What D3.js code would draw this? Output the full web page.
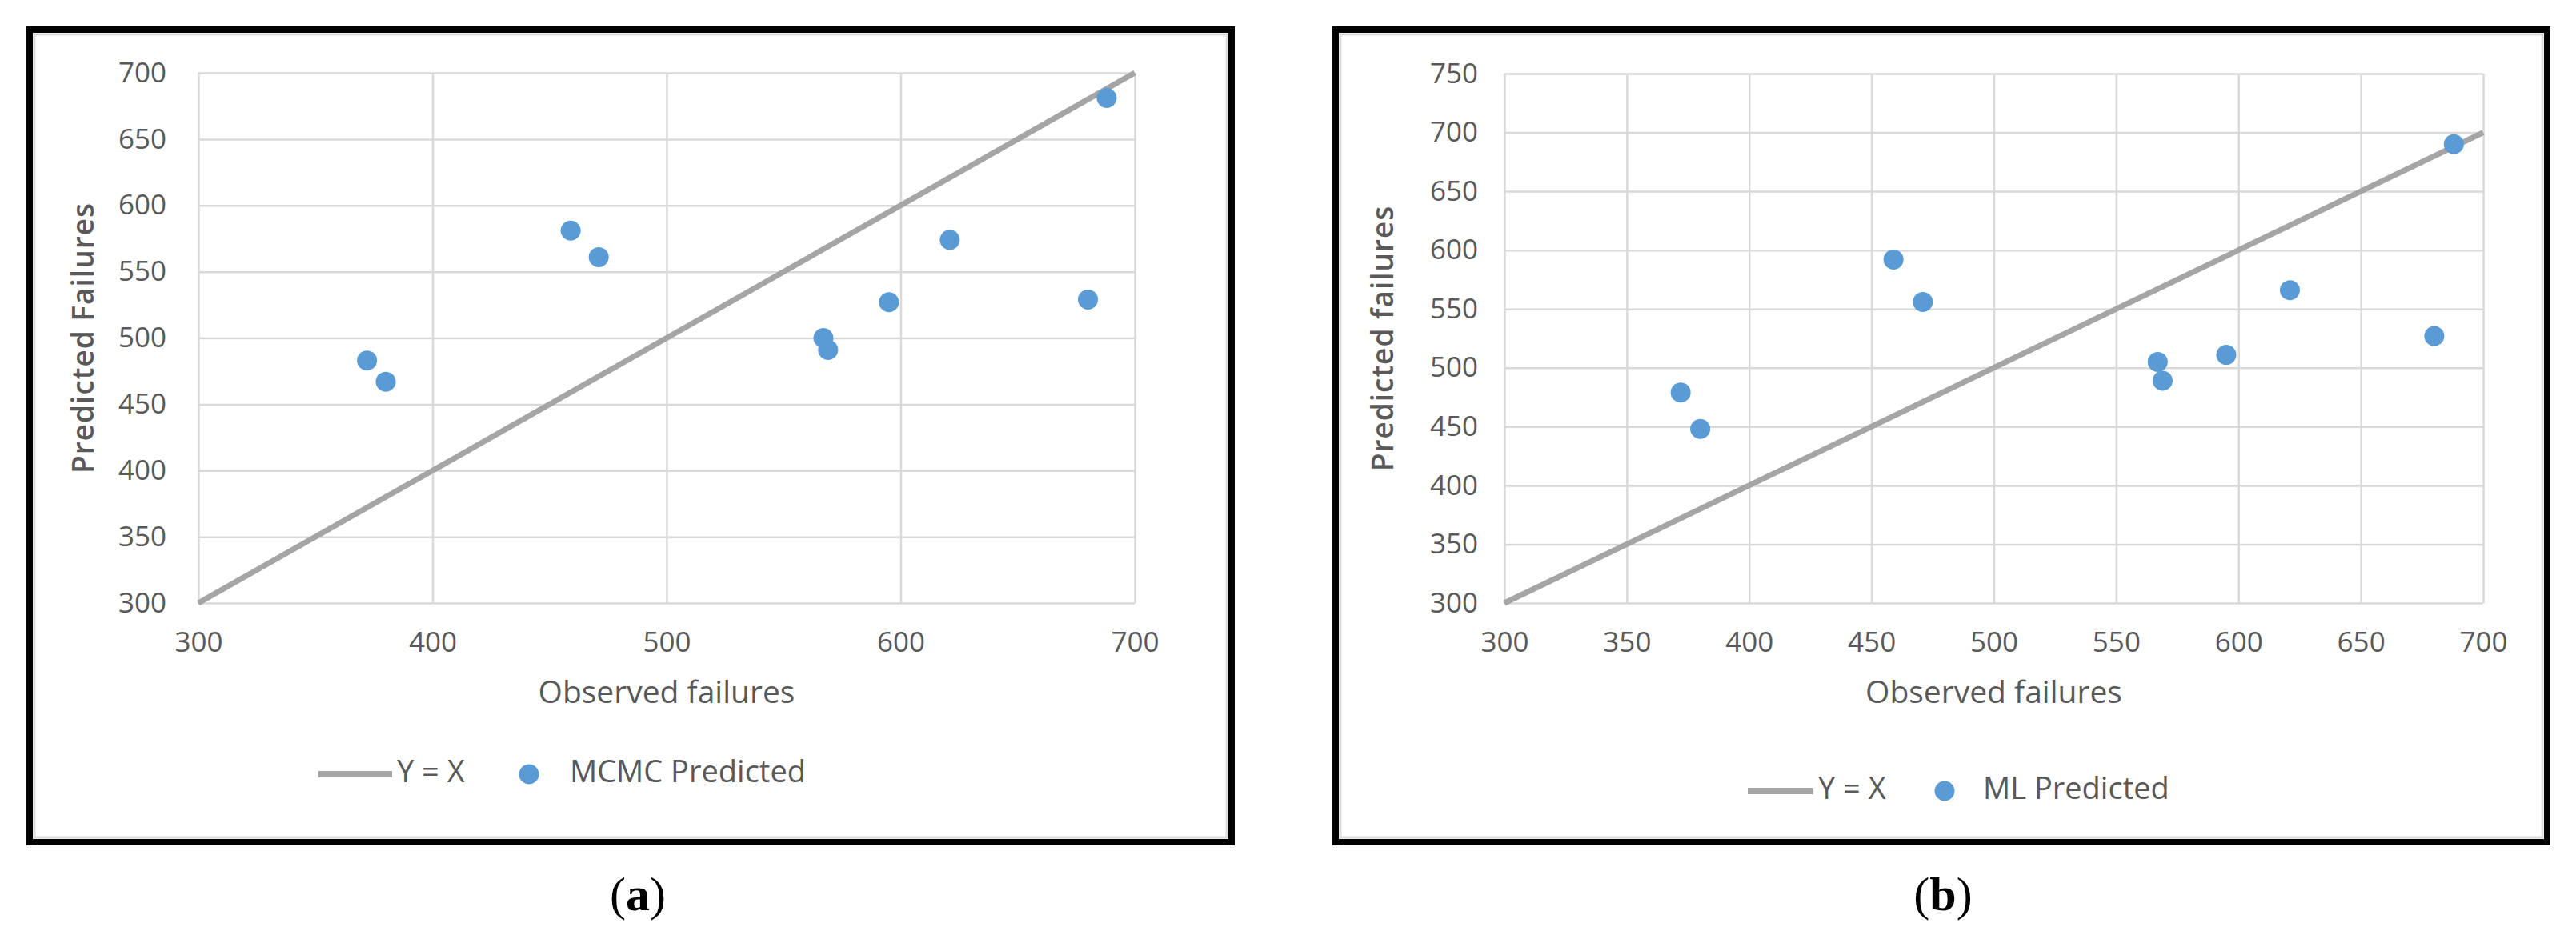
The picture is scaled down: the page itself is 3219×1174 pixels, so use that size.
<!DOCTYPE html>
<html>
<head>
<meta charset="utf-8">
<script src="https://cdn.jsdelivr.net/npm/d3@7"></script>
<style>
  html, body { margin: 0; padding: 0; background: #fff; }
  svg { display: block; }
  .tick text { fill: #595959; font-family: "Open Sans", sans-serif; }
</style>
</head>
<body>
<svg id="chart" width="3219" height="1174"></svg>
<script>
// observed failures (same for both panels)
const observed = [372, 380, 459, 471, 567, 569, 595, 621, 680, 688];
// predicted by MCMC (panel a)
const mcmcPredicted = [483, 467, 581, 561, 500, 491, 527, 574, 529, 681];
// predicted by ML (panel b)
const mlPredicted = [479, 448, 592, 556, 505, 489, 511, 566, 527, 690];

// Y = X reference line end points
const identityLine = [300, 700];

// tick labels
const xTicksA = [300, 400, 500, 600, 700];
const yTicksA = [300, 350, 400, 450, 500, 550, 600, 650, 700];
const xTicksB = [300, 350, 400, 450, 500, 550, 600, 650, 700];
const yTicksB = [300, 350, 400, 450, 500, 550, 600, 650, 700, 750];

const svg = d3.select("#chart");

const gridColor = "#d9d9d9";
const lineColor = "#a5a5a5";
const dotColor = "#5b9bd5";
const textColor = "#595959";

function drawPanel(p) {
  const g = svg.append("g");

  // outer black frame + light inner chart border
  g.append("rect")
    .attr("x", p.frame[0] + 4).attr("y", p.frame[1] + 4)
    .attr("width", p.frame[2] - p.frame[0] - 8)
    .attr("height", p.frame[3] - p.frame[1] - 8)
    .attr("fill", "#fff").attr("stroke", "#000").attr("stroke-width", 8);
  g.append("rect")
    .attr("x", p.frame[0] + 10).attr("y", p.frame[1] + 10)
    .attr("width", p.frame[2] - p.frame[0] - 20)
    .attr("height", p.frame[3] - p.frame[1] - 20)
    .attr("fill", "none").attr("stroke", "#dcdcdc").attr("stroke-width", 3);

  const x = d3.scaleLinear().domain(p.xDomain).range([p.left, p.right]);
  const y = d3.scaleLinear().domain(p.yDomain).range([p.bottom, p.top]);
  const h = p.bottom - p.top, w = p.right - p.left;

  // gridlines
  g.append("g")
    .attr("transform", `translate(0,${p.bottom})`)
    .call(d3.axisBottom(x).tickValues(p.xTicks).tickSize(-h).tickFormat(""))
    .call(s => s.select(".domain").remove())
    .call(s => s.selectAll("line").attr("stroke", gridColor).attr("stroke-width", 2.5));
  g.append("g")
    .attr("transform", `translate(${p.left},0)`)
    .call(d3.axisLeft(y).tickValues(p.yTicks).tickSize(-w).tickFormat(""))
    .call(s => s.select(".domain").remove())
    .call(s => s.selectAll("line").attr("stroke", gridColor).attr("stroke-width", 2.5));

  // tick labels
  g.append("g")
    .attr("transform", `translate(0,${p.bottom})`)
    .call(d3.axisBottom(x).tickValues(p.xTicks).tickSize(0).tickPadding(36))
    .call(s => s.select(".domain").remove())
    .call(s => s.selectAll("text").attr("font-size", 35));
  g.append("g")
    .attr("transform", `translate(${p.left},0)`)
    .call(d3.axisLeft(y).tickValues(p.yTicks).tickSize(0).tickPadding(p.yPad))
    .call(s => s.select(".domain").remove())
    .call(s => s.selectAll("text").attr("font-size", 35));

  // Y = X
  g.append("line")
    .attr("x1", x(identityLine[0])).attr("y1", y(identityLine[0]))
    .attr("x2", x(identityLine[1])).attr("y2", y(identityLine[1]))
    .attr("stroke", lineColor).attr("stroke-width", 7);

  // points
  g.append("g").selectAll("circle")
    .data(observed.map((o, i) => [o, p.predicted[i]]))
    .join("circle")
      .attr("cx", d => x(d[0]))
      .attr("cy", d => y(d[1]))
      .attr("r", 12.5)
      .attr("fill", dotColor);

  // axis titles
  g.append("text")
    .attr("x", (p.left + p.right) / 2).attr("y", 869)
    .attr("text-anchor", "middle").attr("dominant-baseline", "middle")
    .attr("font-family", "Open Sans, sans-serif").attr("font-size", 39)
    .attr("fill", textColor)
    .text("Observed failures");
  g.append("text")
    .attr("transform", `translate(${p.yTitleX},${(p.top + p.bottom) / 2}) rotate(-90)`)
    .attr("text-anchor", "middle").attr("dominant-baseline", "middle")
    .attr("font-family", "Open Sans, sans-serif").attr("font-size", 37)
    .attr("font-weight", 600).attr("letter-spacing", 1)
    .attr("fill", textColor)
    .text(p.yTitle);

  // legend
  const lg = g.append("g").attr("transform", `translate(0,${p.legendY})`);
  lg.append("line")
    .attr("x1", p.legendX[0]).attr("x2", p.legendX[1])
    .attr("stroke", lineColor).attr("stroke-width", 8);
  lg.append("text")
    .attr("x", p.legendX[1] + 6).attr("dominant-baseline", "middle")
    .attr("font-family", "Open Sans, sans-serif").attr("font-size", 38)
    .attr("fill", textColor).text("Y = X");
  lg.append("circle")
    .attr("cx", p.legendX[2]).attr("r", 12.5).attr("fill", dotColor);
  lg.append("text")
    .attr("x", p.legendX[3]).attr("dominant-baseline", "middle")
    .attr("font-family", "Open Sans, sans-serif").attr("font-size", 38)
    .attr("fill", textColor).text(p.seriesName);

  // panel label
  const lab = svg.append("text")
    .attr("x", p.labelX).attr("y", 1138)
    .attr("text-anchor", "middle")
    .attr("font-family", "Liberation Serif, serif").attr("font-size", 60)
    .attr("fill", "#000");
  lab.append("tspan").text("(");
  lab.append("tspan").attr("font-weight", "bold").text(p.label);
  lab.append("tspan").text(")");
}

drawPanel({
  frame: [33, 33, 1543, 1057],
  left: 248, right: 1418, top: 91, bottom: 754,
  xDomain: [300, 700], yDomain: [300, 700],
  xTicks: xTicksA, yTicks: yTicksA, yPad: 40,
  predicted: mcmcPredicted,
  yTitle: "Predicted Failures", yTitleX: 107,
  seriesName: "MCMC Predicted",
  legendY: 968, legendX: [398, 490, 661, 712],
  label: "a", labelX: 797
});

drawPanel({
  frame: [1665, 33, 3187, 1057],
  left: 1880, right: 3103, top: 92, bottom: 754,
  xDomain: [300, 700], yDomain: [300, 750],
  xTicks: xTicksB, yTicks: yTicksB, yPad: 33,
  predicted: mlPredicted,
  yTitle: "Predicted failures", yTitleX: 1731,
  seriesName: "ML Predicted",
  legendY: 989, legendX: [2184, 2266, 2430, 2478],
  label: "b", labelX: 2428
});
</script>
</body>
</html>
